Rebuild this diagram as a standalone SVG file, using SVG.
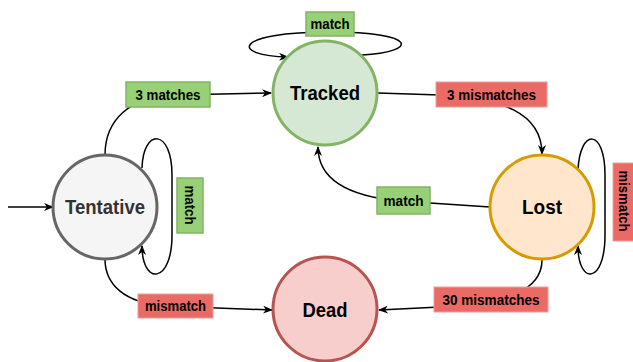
<svg xmlns="http://www.w3.org/2000/svg" width="633" height="362" viewBox="0 0 633 362">
<defs>
<marker id="arr" viewBox="0 0 10 8" refX="9" refY="4" markerWidth="10" markerHeight="8" markerUnits="userSpaceOnUse" orient="auto">
<path d="M0,0 L10,4 L0,8 L3,4 Z" fill="#000"/>
</marker>
<style>
.edge{fill:none;stroke:#000;stroke-width:1.5;marker-end:url(#arr)}
.node{stroke-width:3}
.nt{font-family:"Liberation Sans",Arial,sans-serif;font-weight:bold;font-size:20px;text-anchor:middle}
.lt{font-family:"Liberation Sans",Arial,sans-serif;font-weight:bold;font-size:14px;text-anchor:middle}
.g{fill:#97d077;stroke:#82b366;stroke-width:1.5}
.r{fill:#ea6b66;stroke:#f19c99;stroke-width:1}
</style>
</defs>
<rect width="633" height="362" fill="#fff"/>
<g id="connectors">
<path class="edge" d="M8,207 L53,207"/>
<path class="edge" d="M105,155 C105,120 130,96 175,95 L271,93"/>
<path class="edge" d="M362,55 C418,52 420,32 330,32 C232,32 230,56 288,57"/>
<path class="edge" d="M378,93 L440,95 C500,98 542,112 542,154"/>
<path class="edge" d="M490,207 L400,201 C345,196 318,178 318,147"/>
<path class="edge" d="M142,168 C143,128 172,128 172,175 L172,235 C172,285 142,285 142,246"/>
<path class="edge" d="M578,170 C580,128 605,128 605,175 L605,235 C605,285 578,285 578,246"/>
<path class="edge" d="M105,259 C105,285 125,303 165,306 L272,310"/>
<path class="edge" d="M542,260 C542,290 505,306 440,307 L379,310"/>
</g>
<g id="tracked">
<circle class="node" cx="325" cy="93" r="52" fill="#d5e8d4" stroke="#82b366"/>
<text class="nt" x="325" y="100" textLength="70" lengthAdjust="spacingAndGlyphs">Tracked</text>
</g>
<g id="tentative">
<circle class="node" cx="105" cy="207" r="52" fill="#f5f5f5" stroke="#666666"/>
<text class="nt" x="105" y="214" fill="#333333" textLength="80" lengthAdjust="spacingAndGlyphs">Tentative</text>
</g>
<g id="lost">
<circle class="node" cx="542" cy="207" r="52" fill="#ffe6cc" stroke="#d79b00"/>
<text class="nt" x="542" y="214" textLength="40" lengthAdjust="spacingAndGlyphs">Lost</text>
</g>
<g id="dead">
<circle class="node" cx="325" cy="309" r="52" fill="#f8cecc" stroke="#b85450"/>
<text class="nt" x="325" y="317" textLength="45" lengthAdjust="spacingAndGlyphs">Dead</text>
</g>
<g id="labels">
<rect class="g" x="306" y="12" width="48" height="24"/>
<text class="lt" x="330" y="29" textLength="39" lengthAdjust="spacingAndGlyphs">match</text>
<rect class="g" x="126" y="82" width="84" height="25"/>
<text class="lt" x="168" y="100" textLength="65" lengthAdjust="spacingAndGlyphs">3 matches</text>
<rect class="r" x="436" y="82" width="111" height="25"/>
<text class="lt" x="491.5" y="100" textLength="89" lengthAdjust="spacingAndGlyphs">3 mismatches</text>
<rect class="g" x="177" y="178" width="26" height="55"/>
<text class="lt" transform="translate(190,205) rotate(90)" x="0" y="5" textLength="39" lengthAdjust="spacingAndGlyphs">match</text>
<rect class="g" x="377" y="187" width="53" height="27"/>
<text class="lt" x="403.5" y="205.5" textLength="40" lengthAdjust="spacingAndGlyphs">match</text>
<rect class="r" x="613" y="163" width="26" height="78"/>
<text class="lt" transform="translate(624,201) rotate(90)" x="0" y="5" textLength="61" lengthAdjust="spacingAndGlyphs">mismatch</text>
<rect class="r" x="138" y="294" width="75" height="24"/>
<text class="lt" x="175.5" y="311" textLength="61" lengthAdjust="spacingAndGlyphs">mismatch</text>
<rect class="r" x="434" y="287" width="114" height="25"/>
<text class="lt" x="491" y="304.5" textLength="97" lengthAdjust="spacingAndGlyphs">30 mismatches</text>
</g>
</svg>
